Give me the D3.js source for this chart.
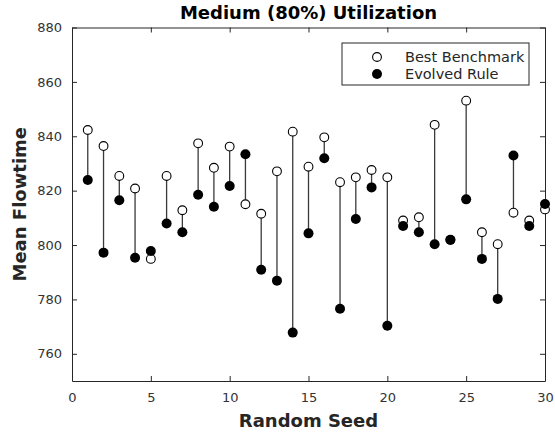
<!DOCTYPE html>
<html>
<head>
<meta charset="utf-8">
<script src="https://cdn.jsdelivr.net/npm/d3@7"></script>
<style>
  body { margin: 0; background: #fff; }
  text { font-family: "DejaVu Sans", sans-serif; }
</style>
</head>
<body>
<div id="chart"></div>
<script>
// ---- data ----
const seeds = [1, 2, 3, 4, 5, 6, 7, 8, 9, 10, 11, 12, 13, 14, 15,
               16, 17, 18, 19, 20, 21, 22, 23, 24, 25, 26, 27, 28, 29, 30];
const benchmark = [842.3, 836.4, 825.4, 820.8, 794.9, 825.4, 812.8, 837.4, 828.4, 836.2,
                   815.0, 811.5, 827.1, 841.7, 828.8, 839.6, 823.1, 824.9, 827.6, 824.9,
                   809.0, 810.2, 844.2, 801.9, 853.1, 804.7, 800.3, 811.9, 809.0, 813.1];
const evolved = [823.9, 797.2, 816.5, 795.3, 797.8, 807.9, 804.7, 818.5, 814.1, 821.7,
                 833.4, 790.9, 786.9, 767.8, 804.3, 831.9, 776.6, 809.6, 821.2, 770.3,
                 807.0, 804.7, 800.3, 801.9, 816.8, 794.9, 780.2, 832.9, 807.0, 815.1];
const xTicks = [0, 5, 10, 15, 20, 25, 30];
const yTicks = [760, 780, 800, 820, 840, 860, 880];
const seriesNames = ["Best Benchmark", "Evolved Rule"];

// ---- layout ----
const W = 555, H = 434;
const margin = {left: 72, right: 10, top: 27.5, bottom: 53};
const width = W - margin.left - margin.right;
const height = H - margin.top - margin.bottom;
const axisColor = "#262626";

const svg = d3.select("#chart").append("svg")
    .attr("width", W)
    .attr("height", H);

const g = svg.append("g")
    .attr("transform", "translate(" + margin.left + "," + margin.top + ")");

const x = d3.scaleLinear().domain([0, 30]).range([0, width]);
const y = d3.scaleLinear().domain([750, 880]).range([height, 0]);

// ---- axes (matlab box style, ticks inward) ----
g.append("g")
    .attr("transform", "translate(0," + height + ")")
    .call(d3.axisBottom(x).tickValues(xTicks).tickSizeInner(-5).tickSizeOuter(0).tickPadding(12))
    .call(a => a.select(".domain").attr("stroke", axisColor));

g.append("g")
    .call(d3.axisTop(x).tickValues(xTicks).tickSizeInner(-5).tickSizeOuter(0).tickFormat(""))
    .call(a => a.select(".domain").attr("stroke", axisColor));

g.append("g")
    .call(d3.axisLeft(y).tickValues(yTicks).tickSizeInner(-5).tickSizeOuter(0).tickPadding(10))
    .call(a => a.select(".domain").attr("stroke", axisColor));

g.append("g")
    .attr("transform", "translate(" + width + ",0)")
    .call(d3.axisRight(y).tickValues(yTicks).tickSizeInner(-5).tickSizeOuter(0).tickFormat(""))
    .call(a => a.select(".domain").attr("stroke", axisColor));

g.selectAll(".tick line").attr("stroke", axisColor);
g.selectAll(".tick text")
    .attr("fill", "#333")
    .style("font-size", "13px")
    .style("font-family", "DejaVu Sans, sans-serif");

// ---- titles ----
svg.append("text")
    .attr("x", margin.left + width / 2)
    .attr("y", 18.5)
    .attr("text-anchor", "middle")
    .style("font-size", "18px")
    .style("font-weight", "bold")
    .text("Medium (80%) Utilization");

svg.append("text")
    .attr("x", margin.left + width / 2)
    .attr("y", 427)
    .attr("text-anchor", "middle")
    .attr("fill", "#262626")
    .style("font-size", "18px")
    .style("font-weight", "bold")
    .text("Random Seed");

svg.append("text")
    .attr("transform", "translate(26," + (margin.top + height / 2) + ") rotate(-90)")
    .attr("text-anchor", "middle")
    .attr("fill", "#262626")
    .style("font-size", "18px")
    .style("font-weight", "bold")
    .text("Mean Flowtime");

// ---- stems ----
const rows = seeds.map((s, i) => ({seed: s, bench: benchmark[i], evo: evolved[i]}));

g.append("g")
  .selectAll("line")
  .data(rows)
  .join("line")
    .attr("x1", d => x(d.seed))
    .attr("x2", d => x(d.seed))
    .attr("y1", d => y(d.bench))
    .attr("y2", d => y(d.evo))
    .attr("stroke", "#3a3a3a")
    .attr("stroke-width", 1.3);

// open circles first, filled on top
g.append("g")
  .selectAll("circle")
  .data(rows)
  .join("circle")
    .attr("cx", d => x(d.seed))
    .attr("cy", d => y(d.bench))
    .attr("r", 4.4)
    .attr("fill", "#fff")
    .attr("stroke", "#000")
    .attr("stroke-width", 1.1);

g.append("g")
  .selectAll("circle")
  .data(rows)
  .join("circle")
    .attr("cx", d => x(d.seed))
    .attr("cy", d => y(d.evo))
    .attr("r", 5)
    .attr("fill", "#000");

// ---- legend ----
const legend = svg.append("g").attr("transform", "translate(342,43)");
legend.append("rect")
    .attr("width", 187)
    .attr("height", 42)
    .attr("fill", "#fff")
    .attr("stroke", axisColor)
    .attr("stroke-width", 1);

legend.selectAll("g.entry")
  .data(seriesNames)
  .join("g")
    .attr("class", "entry")
    .attr("transform", (d, i) => "translate(0," + (14 + i * 17) + ")")
    .each(function(d, i) {
      const e = d3.select(this);
      e.append("circle")
        .attr("cx", 35)
        .attr("cy", 0)
        .attr("r", i === 0 ? 4.4 : 5)
        .attr("fill", i === 0 ? "#fff" : "#000")
        .attr("stroke", "#000")
        .attr("stroke-width", i === 0 ? 1.1 : 0);
      e.append("text")
        .attr("x", 63)
        .attr("y", 0)
        .attr("dy", "0.35em")
        .attr("fill", "#262626")
        .style("font-size", "14.5px")
        .text(d);
    });
</script>
</body>
</html>
